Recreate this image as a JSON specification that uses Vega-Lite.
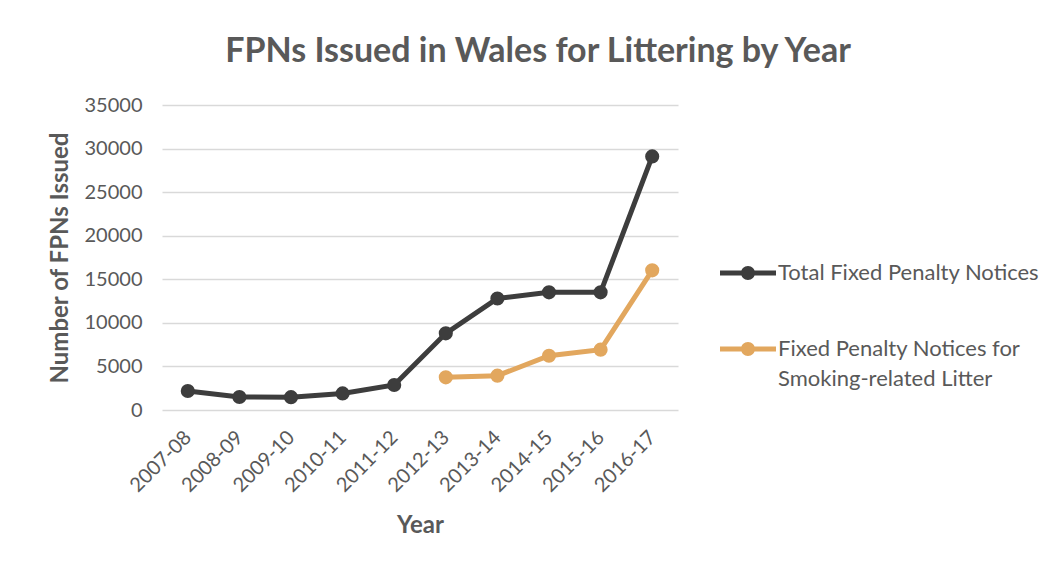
{
  "$schema": "https://vega.github.io/schema/vega-lite/v6.json",
  "autosize": "none",
  "width": 516,
  "height": 305,
  "padding": {"left": 162, "top": 105, "right": 379, "bottom": 163},
  "background": "#ffffff",
  "config": {
    "font": "Lato",
    "view": {"stroke": null},
    "axis": {"labelColor": "#595959", "titleColor": "#595959", "labelFont": "Lato", "titleFont": "Lato"},
    "legend": {"labelFont": "Lato"}
  },
  "title": {
    "text": "FPNs Issued in Wales for Littering by Year",
    "font": "Lato",
    "fontSize": 34,
    "fontWeight": "bold",
    "color": "#595959",
    "anchor": "middle",
    "frame": "group",
    "dx": 118,
    "offset": 26
  },
  "data": {
    "values": [
      {"year": "2007-08", "series": "Total Fixed Penalty Notices", "value": 2180},
      {"year": "2008-09", "series": "Total Fixed Penalty Notices", "value": 1490},
      {"year": "2009-10", "series": "Total Fixed Penalty Notices", "value": 1470},
      {"year": "2010-11", "series": "Total Fixed Penalty Notices", "value": 1900},
      {"year": "2011-12", "series": "Total Fixed Penalty Notices", "value": 2870},
      {"year": "2012-13", "series": "Total Fixed Penalty Notices", "value": 8800},
      {"year": "2013-14", "series": "Total Fixed Penalty Notices", "value": 12800},
      {"year": "2014-15", "series": "Total Fixed Penalty Notices", "value": 13500},
      {"year": "2015-16", "series": "Total Fixed Penalty Notices", "value": 13500},
      {"year": "2016-17", "series": "Total Fixed Penalty Notices", "value": 29100},
      {"year": "2012-13", "series": "Fixed Penalty Notices for Smoking-related Litter", "value": 3750},
      {"year": "2013-14", "series": "Fixed Penalty Notices for Smoking-related Litter", "value": 3940},
      {"year": "2014-15", "series": "Fixed Penalty Notices for Smoking-related Litter", "value": 6230},
      {"year": "2015-16", "series": "Fixed Penalty Notices for Smoking-related Litter", "value": 6920},
      {"year": "2016-17", "series": "Fixed Penalty Notices for Smoking-related Litter", "value": 16030}
    ]
  },
  "encoding": {
    "x": {
      "field": "year",
      "type": "ordinal",
      "scale": {"type": "point", "padding": 0.5},
      "axis": {
        "title": "Year",
        "titleFontSize": 24,
        "titleFontWeight": "bold",
        "titlePadding": 18,
        "labelAngle": -45,
        "labelAlign": "right",
        "labelBaseline": "middle",
        "labelFontSize": 20,
        "labelPadding": 24,
        "ticks": false,
        "domain": false,
        "grid": false
      }
    },
    "y": {
      "field": "value",
      "type": "quantitative",
      "scale": {"domain": [0, 35000], "nice": false},
      "axis": {
        "title": "Number of FPNs Issued",
        "titleFontSize": 24,
        "titleFontWeight": "bold",
        "titlePadding": 12,
        "values": [0, 5000, 10000, 15000, 20000, 25000, 30000, 35000],
        "format": "d",
        "labelFontSize": 20,
        "labelPadding": 20,
        "ticks": false,
        "domain": false,
        "gridColor": "#d9d9d9",
        "gridWidth": 1.5
      }
    },
    "color": {
      "field": "series",
      "type": "nominal",
      "scale": {
        "domain": ["Total Fixed Penalty Notices", "Fixed Penalty Notices for Smoking-related Litter"],
        "range": ["#3d3d3d", "#e2a75e"]
      },
      "legend": {
        "title": null,
        "orient": "none",
        "legendX": 558,
        "legendY": 140,
        "symbolType": "M-1,-0.09H1V0.09H-1Z M-0.25,0A0.25,0.25,0,1,1,0.25,0A0.25,0.25,0,1,1,-0.25,0Z",
        "symbolSize": 3136,
        "symbolStrokeWidth": 0,
        "labelFontSize": 22,
        "labelColor": "#595959",
        "labelLimit": 400,
        "labelOffset": 2,
        "rowPadding": 37,
        "labelExpr": "datum.label == 'Fixed Penalty Notices for Smoking-related Litter' ? ['Fixed Penalty Notices for', 'Smoking-related Litter'] : datum.label",
        "encode": {
          "symbols": {"update": {"fill": {"scale": "color", "field": "value"}, "strokeWidth": {"value": 0}}},
          "labels": {"update": {"lineHeight": {"value": 30}}}
        }
      }
    }
  },
  "layer": [
    {"mark": {"type": "line", "strokeWidth": 5}},
    {"mark": {"type": "point", "filled": true, "size": 200, "opacity": 1}}
  ]
}
